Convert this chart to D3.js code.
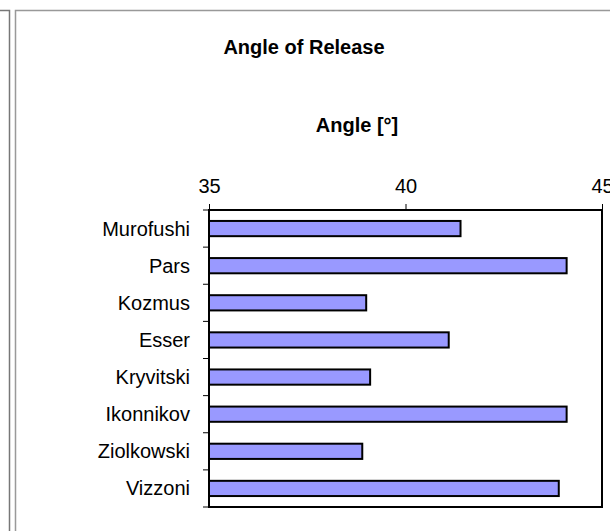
<!DOCTYPE html>
<html><head><meta charset="utf-8">
<script src="https://cdn.jsdelivr.net/npm/d3@7"></script>
<style>body{margin:0;background:#fff;}svg{display:block;}</style>
</head><body>
<script>
const categories = ["Murofushi","Pars","Kozmus","Esser","Kryvitski","Ikonnikov","Ziolkowski","Vizzoni"];
const angles = [41.4, 44.1, 39.0, 41.1, 39.1, 44.1, 38.9, 43.9];
const tickValues = [35, 40, 45];
const title = "Angle of Release";
const axisTitle = "Angle [°]";

const W = 610, H = 531;
const svg = d3.select("body").append("svg").attr("width", W).attr("height", H);
const font = "Arial, 'Liberation Sans', sans-serif";

// surrounding frames
svg.append("path").attr("d", "M0,10.5H9.5V531").attr("fill","none").attr("stroke","#777").attr("stroke-width",1.5);
svg.append("path").attr("d", "M15.5,531V10.5H612").attr("fill","none").attr("stroke","#999").attr("stroke-width",1.5);

const m = {left: 209, right: 602, top: 210, bottom: 507};
const x = d3.scaleLinear().domain([35, 45]).range([m.left, m.right]);
const y = d3.scaleBand().domain(categories).range([m.top, m.bottom]).paddingInner(0.59).paddingOuter(0.295);
const yb = d3.scaleBand().domain(categories).range([m.top, m.bottom]);

// plot frame
svg.append("rect").attr("x", m.left).attr("y", m.top).attr("width", m.right - m.left).attr("height", m.bottom - m.top)
  .attr("fill", "#fff").attr("stroke", "#000").attr("stroke-width", 2);

// bars
svg.append("g").selectAll("rect").data(categories).join("rect")
  .attr("x", x(35))
  .attr("y", d => y(d))
  .attr("width", (d, i) => x(angles[i]) - x(35))
  .attr("height", y.bandwidth())
  .attr("fill", "#9999FF").attr("stroke", "#000").attr("stroke-width", 2);

// top axis
const xAxis = svg.append("g").attr("transform", `translate(0,${m.top})`)
  .call(d3.axisTop(x).tickValues(tickValues).tickSize(6).tickPadding(11));
xAxis.select(".domain").remove();
xAxis.selectAll("line").attr("stroke", "#000");
xAxis.selectAll("text").attr("font-family", font).attr("font-size", 20).attr("fill", "#000");

// left axis ticks at band boundaries
svg.append("g").selectAll("line").data(categories.concat(["__end"])).join("line")
  .attr("x1", m.left - 6).attr("x2", m.left)
  .attr("y1", (d, i) => i < categories.length ? yb(d) : m.bottom)
  .attr("y2", (d, i) => i < categories.length ? yb(d) : m.bottom)
  .attr("stroke", "#000").attr("stroke-width", 1);

// category labels
svg.append("g").selectAll("text").data(categories).join("text")
  .attr("x", 190)
  .attr("y", d => yb(d) + yb.bandwidth() / 2 + 7)
  .attr("text-anchor", "end")
  .attr("font-family", font).attr("font-size", 20).attr("fill", "#000")
  .text(d => d);

// titles
svg.append("text").attr("x", 304).attr("y", 54).attr("text-anchor", "middle")
  .attr("font-family", font).attr("font-size", 20).attr("font-weight", "bold").text(title);
svg.append("text").attr("x", 357).attr("y", 132).attr("text-anchor", "middle")
  .attr("font-family", font).attr("font-size", 20).attr("font-weight", "bold").text(axisTitle);
</script>
</body></html>
